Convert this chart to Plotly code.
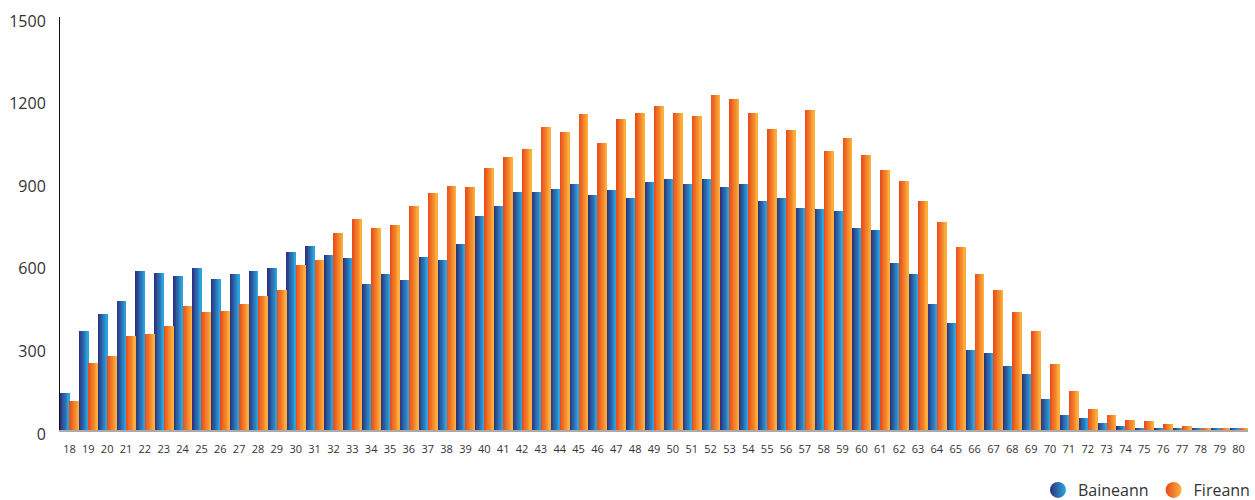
import plotly.graph_objects as go

ages = [str(a) for a in range(18, 81)]

baineann = [133, 361, 423, 470, 576, 572, 561, 587, 547, 568,
            576, 590, 645, 670, 637, 623, 532, 568, 543, 630,
            619, 674, 779, 815, 863, 866, 877, 892, 855, 870,
            841, 899, 913, 892, 910, 884, 895, 830, 844, 808,
            804, 794, 732, 725, 605, 568, 459, 390, 292, 281,
            231, 205, 114, 56, 42, 24, 13, 9, 9, 9,
            5, 5, 4]

fireann = [104, 242, 267, 343, 350, 376, 452, 427, 434, 459,
           485, 510, 601, 619, 714, 768, 732, 743, 812, 859,
           888, 884, 953, 993, 1022, 1099, 1081, 1146, 1044, 1131,
           1150, 1175, 1150, 1139, 1215, 1204, 1150, 1095, 1091, 1164,
           1012, 1062, 997, 946, 903, 830, 754, 663, 565, 507,
           427, 361, 238, 143, 78, 56, 38, 31, 20, 16,
           9, 9, 5]

y_ticks = [0, 300, 600, 900, 1200, 1500]

series = [
    ("Baineann", baineann, (0x2c, 0x2d, 0x7c), (0x2b, 0xa9, 0xe1), -0.5),
    ("Fireann", fireann, (0xe8, 0x4a, 0x1a), (0xfc, 0xb3, 0x3a), 0.0),
]

FONT = "Open Sans"
N = 12
BW = 0.5


def mix(c0, c1, t):
    return "rgb(%d,%d,%d)" % tuple(round(a + (b - a) * t) for a, b in zip(c0, c1))


def hexc(c):
    return "#%02x%02x%02x" % c


fig = go.Figure()
for name, vals, c0, c1, base in series:
    for k in range(N):
        fig.add_trace(go.Bar(
            x=ages, y=vals,
            offset=base + k * BW / N,
            width=BW - k * BW / N,
            marker=dict(color=mix(c0, c1, (k + 0.5) / N), line=dict(width=0)),
            showlegend=False, hoverinfo="skip",
        ))

for name, vals, c0, c1, base in series:
    fig.add_trace(go.Scatter(
        x=[None], y=[None], mode="markers", name=name,
        marker=dict(symbol="circle", size=18, color=hexc(c0),
                    gradient=dict(type="horizontal", color=hexc(c1))),
    ))

fig.update_layout(
    width=1255, height=500,
    barmode="overlay", bargap=0,
    plot_bgcolor="white", paper_bgcolor="white",
    margin=dict(l=60, r=7, t=17, b=70, autoexpand=False),
    font=dict(family=FONT, color="#333333"),
    showlegend=True,
    legend=dict(orientation="h", xref="container", yref="container",
                x=1.0, xanchor="right", y=0.02, yanchor="middle",
                font=dict(size=16, color="#333333"), itemwidth=30,
                bgcolor="rgba(0,0,0,0)", traceorder="normal"),
    xaxis=dict(type="category", range=[-0.5, len(ages) - 0.5],
               showline=True, linecolor="#aaaaaa", linewidth=1.5,
               showgrid=False, zeroline=False, ticks="",
               tickfont=dict(size=11, color="#333333"),
               ticklabelstandoff=8, tickangle=0),
    yaxis=dict(range=[0, 1500], tickvals=y_ticks,
               showline=True, linecolor="#111111", linewidth=1,
               showgrid=False, zeroline=False, ticks="",
               tickfont=dict(size=16, color="#333333"),
               ticklabelstandoff=10, ticklabelshift=4),
)

fig.write_html("out.html", config={"displayModeBar": False},
               post_script="document.body.style.margin='0';document.body.style.overflow='hidden';")
